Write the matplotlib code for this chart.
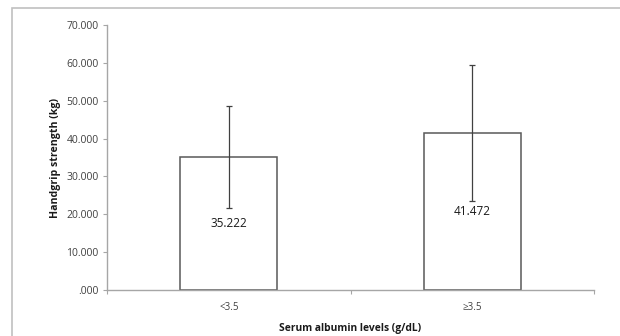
import matplotlib
matplotlib.use("Agg")
import matplotlib.pyplot as plt
from matplotlib.patches import Rectangle

categories = ["<3.5", "\u22653.5"]
means = [35.222, 41.472]
sds = [13.5, 17.9]
value_labels = ["35.222", "41.472"]
yticks = [0, 10, 20, 30, 40, 50, 60, 70]
ytick_labels = [".000", "10.000", "20.000", "30.000", "40.000", "50.000", "60.000", "70.000"]

plt.rcParams['font.family'] = ['Open Sans', 'DejaVu Sans']

W, H = 620, 336
fig = plt.figure(figsize=(W / 100, H / 100), dpi=100)
fig.patch.set_facecolor("white")

# outer chart border
fig.add_artist(Rectangle((12 / W, -0.1), 1.0, (H - 8) / H + 0.1, transform=fig.transFigure,
                         fill=False, edgecolor="#c0c0c0", linewidth=1.2))

ax = fig.add_axes([107 / W, (H - 290) / H, (594 - 107) / W, (290 - 25) / H])
x = range(len(categories))
ax.bar(x, means, width=0.40, color="white", edgecolor="#595959", linewidth=1.1, zorder=2)
ax.errorbar(x, means, yerr=sds, fmt="none", ecolor="#404040", elinewidth=0.9,
            capsize=2.5, capthick=0.9, zorder=3)
for i, (m, lab) in enumerate(zip(means, value_labels)):
    ax.text(i, m / 2, lab, ha="center", va="center", fontsize=8.5, color="#1a1a1a", zorder=4)

ax.set_xlim(-0.5, 1.5)
ax.set_ylim(0, 70)
ax.set_yticks(yticks)
ax.set_yticklabels(ytick_labels)
ax.set_xticks(list(x))
ax.set_xticklabels(categories)
ax.set_xticks([-0.5, 0.5, 1.5], minor=True)
ax.tick_params(axis="x", which="major", length=0, pad=9, labelsize=7, labelcolor="#404040")
ax.tick_params(axis="x", which="minor", length=3, color="#a6a6a6", width=0.8)
ax.tick_params(axis="y", length=3, color="#a6a6a6", width=0.8, labelsize=7.5,
               labelcolor="#404040", pad=3)

for s in ["top", "right"]:
    ax.spines[s].set_visible(False)
for s in ["left", "bottom"]:
    ax.spines[s].set_color("#a6a6a6")
    ax.spines[s].set_linewidth(1.0)

ax.set_ylabel("Handgrip strength (kg)", fontsize=7.6, fontweight="bold", color="#1a1a1a", labelpad=4)
ax.set_xlabel("Serum albumin levels (g/dL)", fontsize=7.4, fontweight="bold", color="#1a1a1a", labelpad=7)

fig.savefig("out.png", dpi=100, facecolor="white")
